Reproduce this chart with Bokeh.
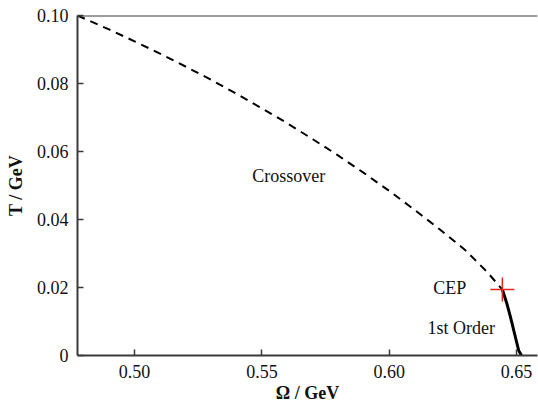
from bokeh.plotting import figure
from bokeh.models import Range1d, Span, FixedTicker, Label
from bokeh.embed import file_html
from bokeh.resources import INLINE

# Crossover (dashed) branch
omega_cross = [0.4776, 0.490, 0.500, 0.510, 0.520, 0.530, 0.540, 0.550, 0.560, 0.570,
               0.580, 0.590, 0.600, 0.610, 0.620, 0.630, 0.6385, 0.6444]
T_cross = [0.1000, 0.0959, 0.0924, 0.0888, 0.0850, 0.0811, 0.0770, 0.0727, 0.0683, 0.0636,
           0.0588, 0.0537, 0.0484, 0.0428, 0.0370, 0.0309, 0.0245, 0.0194]

# First-order (solid) branch
omega_first = [0.6444, 0.6462, 0.6476, 0.6492, 0.6508, 0.6519]
T_first = [0.0194, 0.0152, 0.0113, 0.0064, 0.0015, 0.0]

# Critical end point
cep_omega = [0.6444]
cep_T = [0.0194]

x_ticks = [0.50, 0.55, 0.60, 0.65]
x_tick_labels = ["0.50", "0.55", "0.60", "0.65"]
y_ticks = [0.0, 0.02, 0.04, 0.06, 0.08, 0.10]
y_tick_labels = ["0", "0.02", "0.04", "0.06", "0.08", "0.10"]

FONT = "Liberation Serif"
AX = "#3a3a3a"
TXT = "#111111"

p = figure(width=538, height=406, output_backend="svg", toolbar_location=None,
           x_range=Range1d(0.4776, 0.6582), y_range=Range1d(0.0, 0.1),
           min_border_left=77, min_border_right=1, min_border_top=15, min_border_bottom=51)
p.outline_line_color = None
p.xgrid.visible = False
p.ygrid.visible = False
p.background_fill_color = "white"
p.border_fill_color = "white"

for axes in (p.xaxis, p.yaxis):
    axes.axis_line_color = AX
    axes.axis_line_width = 2
    axes.major_tick_line_color = AX
    axes.major_tick_line_width = 1.5
    axes.major_tick_in = 6
    axes.major_tick_out = 0
    axes.minor_tick_line_color = None
    axes.major_label_text_font = FONT
    axes.major_label_text_font_size = "18px"
    axes.major_label_text_color = TXT
    axes.axis_label_text_font = FONT
    axes.axis_label_text_font_size = "18px"
    axes.axis_label_text_font_style = "bold"
    axes.axis_label_text_color = TXT

p.xaxis.ticker = FixedTicker(ticks=x_ticks)
p.xaxis.major_label_overrides = dict(zip(x_ticks, x_tick_labels))
p.yaxis.ticker = FixedTicker(ticks=y_ticks)
p.yaxis.major_label_overrides = dict(zip(y_ticks, y_tick_labels))
p.xaxis.major_label_standoff = 9
p.yaxis.major_label_standoff = 9
p.xaxis.axis_label = "Ω / GeV"
p.yaxis.axis_label = "T / GeV"
p.xaxis.axis_label_standoff = 2
p.yaxis.axis_label_standoff = 8

# top border
p.add_layout(Span(location=0.1, dimension="width", line_color=AX, line_width=2))

p.line(omega_cross, T_cross, line_color="black", line_width=2, line_dash="8 6")
p.line(omega_first, T_first, line_color="black", line_width=3)
p.scatter(cep_omega, cep_T, marker="cross", size=24, line_color="#e0281e", line_width=1.5)

for txt, x, y in [("Crossover", 0.5462, 0.0529), ("CEP", 0.6173, 0.0200), ("1st Order", 0.6150, 0.0082)]:
    p.add_layout(Label(x=x, y=y, text=txt, text_font=FONT, text_font_size="18px",
                       text_baseline="middle", text_align="left", text_color=TXT))

open("out.html", "w").write(file_html(p, INLINE))
